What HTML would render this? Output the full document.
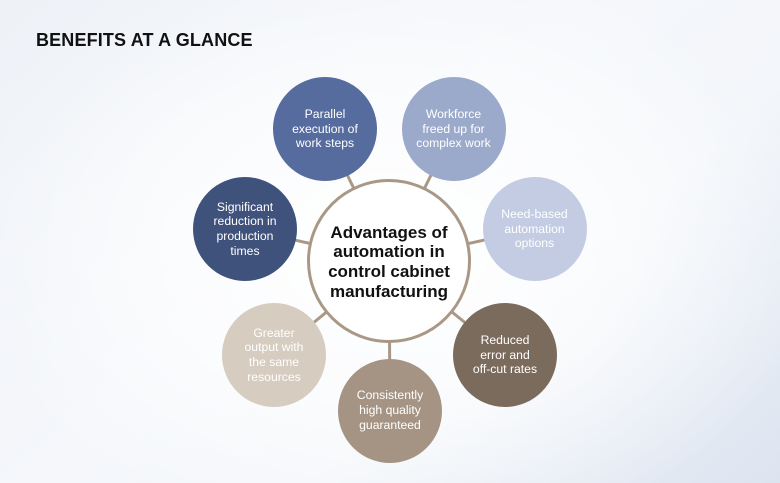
<!DOCTYPE html>
<html>
<head>
<meta charset="utf-8">
<style>
  html, body { margin: 0; padding: 0; }
  body {
    width: 780px; height: 483px; overflow: hidden; position: relative;
    font-family: "Liberation Sans", Arial, sans-serif;
    background:
      radial-gradient(ellipse 430px 300px at 390px 250px, rgba(255,255,255,1) 0%, rgba(255,255,255,0.6) 55%, rgba(255,255,255,0) 100%),
      linear-gradient(140deg, #eef2f7 0%, #f5f7fb 45%, #f3f6fa 65%, #dce4f0 100%);
  }
  h1 {
    position: absolute; left: 36px; top: 30px; margin: 0;
    font-size: 18px; font-weight: bold; color: #111; letter-spacing: 0.15px;
    line-height: 20px;
  }
  svg { position: absolute; left: 0; top: 0; }
  .c {
    position: absolute; width: 104px; height: 104px; border-radius: 50%;
    display: flex; align-items: center; justify-content: center; text-align: center;
    color: #fff; font-size: 12.2px; line-height: 14.7px;
  }
  .center {
    position: absolute; left: 307px; top: 179px; width: 164px; height: 164px;
    display: flex; align-items: center; justify-content: center; text-align: center;
    font-size: 17px; font-weight: bold; line-height: 19.6px; color: #111;
  }
  .center span { position: relative; top: 1px; }
</style>
</head>
<body>
<h1>BENEFITS AT A GLANCE</h1>
<svg width="780" height="483" viewBox="0 0 780 483">
  <g stroke="#a99886" stroke-width="3">
    <line x1="389" y1="261" x2="325" y2="129"/>
    <line x1="389" y1="261" x2="453.5" y2="129"/>
    <line x1="389" y1="261" x2="534.5" y2="229"/>
    <line x1="389" y1="261" x2="505" y2="355"/>
    <line x1="389" y1="261" x2="390" y2="410.5"/>
    <line x1="389" y1="261" x2="274" y2="355"/>
    <line x1="389" y1="261" x2="245" y2="229"/>
  </g>
  <circle cx="389" cy="261" r="80.5" fill="#ffffff" stroke="#a99886" stroke-width="3"/>
</svg>

<div class="center"><span>Advantages of<br>automation in<br>control cabinet<br>manufacturing</span></div>

<div class="c" style="left:273px;top:77px;background:#566b9e;">Parallel<br>execution of<br>work steps</div>
<div class="c" style="left:401.5px;top:77px;background:#9baacb;">Workforce<br>freed up for<br>complex work</div>
<div class="c" style="left:482.5px;top:177px;background:#c3cce3;">Need-based<br>automation<br>options</div>
<div class="c" style="left:453px;top:303px;background:#7b6b5d;">Reduced<br>error and<br>off-cut rates</div>
<div class="c" style="left:338px;top:358.5px;background:#a59483;">Consistently<br>high quality<br>guaranteed</div>
<div class="c" style="left:222px;top:303px;background:#d6ccc0;">Greater<br>output with<br>the same<br>resources</div>
<div class="c" style="left:193px;top:177px;background:#3f527c;">Significant<br>reduction in<br>production<br>times</div>
</body>
</html>
